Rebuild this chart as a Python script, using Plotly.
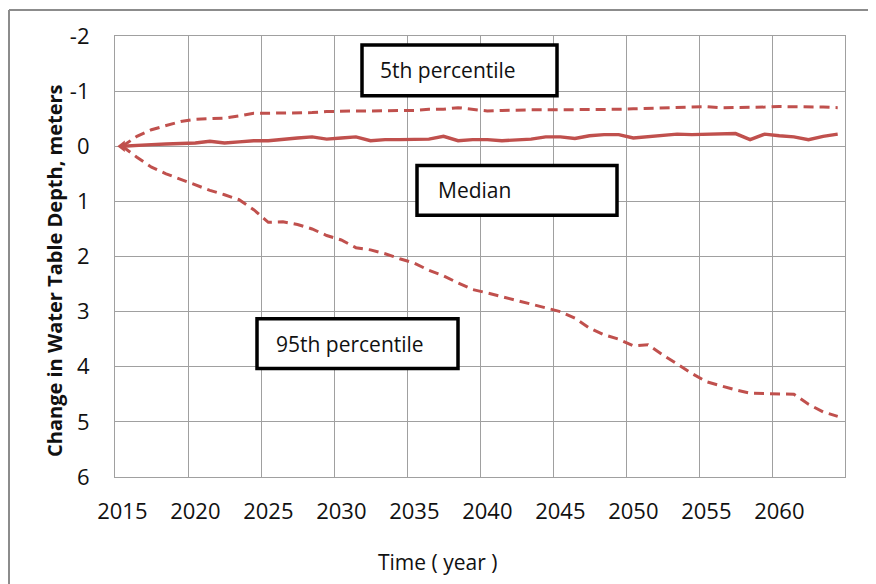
import plotly.graph_objects as go

years = list(range(2015, 2065))

p95 = [0, 0.2, 0.38, 0.5, 0.6, 0.7, 0.8, 0.88, 0.97, 1.15,
       1.38, 1.37, 1.42, 1.5, 1.62, 1.7, 1.84, 1.88, 1.95, 2.04,
       2.12, 2.25, 2.35, 2.48, 2.6, 2.66, 2.73, 2.8, 2.86, 2.93,
       3.0, 3.12, 3.3, 3.42, 3.5, 3.62, 3.6, 3.78, 3.95, 4.12,
       4.27, 4.35, 4.42, 4.48, 4.49, 4.49, 4.5, 4.68, 4.82, 4.9]

p5 = [0, -0.18, -0.3, -0.38, -0.45, -0.49, -0.5, -0.51, -0.55, -0.6,
      -0.6, -0.6, -0.6, -0.61, -0.63, -0.64, -0.64, -0.64, -0.64, -0.65,
      -0.65, -0.67, -0.67, -0.7, -0.67, -0.64, -0.65, -0.66, -0.66, -0.66,
      -0.66, -0.66, -0.67, -0.67, -0.67, -0.68, -0.69, -0.7, -0.7, -0.71,
      -0.72, -0.7, -0.7, -0.7, -0.71, -0.72, -0.72, -0.71, -0.71, -0.7]

median = [0, -0.02, -0.03, -0.04, -0.05, -0.06, -0.09, -0.06, -0.08, -0.1,
          -0.1, -0.13, -0.15, -0.17, -0.13, -0.15, -0.17, -0.1, -0.12, -0.12,
          -0.13, -0.13, -0.18, -0.1, -0.12, -0.12, -0.1, -0.12, -0.13, -0.17,
          -0.17, -0.14, -0.19, -0.21, -0.21, -0.15, -0.17, -0.19, -0.22, -0.21,
          -0.22, -0.22, -0.23, -0.12, -0.22, -0.19, -0.17, -0.12, -0.18, -0.22]

x_tick_labels = [str(y) for y in range(2015, 2061, 5)]
y_ticks = list(range(-2, 7))
y_tick_labels = [str(v) for v in y_ticks]

RED = "#C0504D"
FONT = "Open Sans"
TXT = "#111111"

fig = go.Figure()
fig.add_trace(go.Scatter(x=years, y=p95, mode="lines",
                         line=dict(color=RED, width=3, dash="10px,6px"), showlegend=False))
fig.add_trace(go.Scatter(x=years, y=p5, mode="lines",
                         line=dict(color=RED, width=3, dash="10px,6px"), showlegend=False))
fig.add_trace(go.Scatter(x=years, y=median, mode="lines",
                         line=dict(color=RED, width=3.4), showlegend=False))
fig.add_trace(go.Scatter(x=years[:1], y=median[:1], mode="markers",
                         marker=dict(symbol="triangle-left", size=10, color=RED),
                         showlegend=False))

GRID = "#A0A0A0"
fig.update_xaxes(
    range=[2014.5, 2064.5],
    tickvals=[int(t) for t in x_tick_labels], ticktext=x_tick_labels,
    showgrid=False, ticks="", ticklabelstandoff=14,
    tickfont=dict(family=FONT, size=22, color=TXT),
    minor=dict(tick0=2014.5, dtick=5, showgrid=True, gridcolor=GRID, gridwidth=1.2, ticks=""),
    showline=True, linecolor=GRID, linewidth=1.2, mirror=True, zeroline=False,
)
fig.update_yaxes(
    range=[6, -2], tickvals=y_ticks, ticktext=y_tick_labels,
    showgrid=True, gridcolor=GRID, gridwidth=1.2, ticks="", ticklabelstandoff=20,
    tickfont=dict(family=FONT, size=22, color=TXT),
    showline=True, linecolor=GRID, linewidth=1.2, mirror=True, zeroline=False,
)

# page-pixel helpers (the page body adds an 8px offset)
PL, PR, PT, PB = 115, 845, 34, 477
def px(x):
    return (x - PL) / (PR - PL)
def py(y):
    return (PB - y) / (PB - PT)

annotations = [
    dict(text="Time ( year )", x=px(437), y=py(562), xanchor="center", yanchor="middle",
         xref="paper", yref="paper", showarrow=False,
         font=dict(family=FONT, size=21, color=TXT)),
    dict(text="<b>Change in Water Table Depth, meters</b>", x=px(55), y=py(270),
         xanchor="center", yanchor="middle",
         xref="paper", yref="paper", showarrow=False, textangle=-90,
         font=dict(family=FONT, size=20, color=TXT)),
]
boxes = [
    ("5th percentile", 362, 557, 43, 94, 378),
    ("Median", 417, 617, 164, 214, 436),
    ("95th percentile", 257, 458, 318, 368, 274),
]
shapes = []
for label, x0, x1, y0, y1, tx in boxes:
    shapes.append(dict(type="rect", xref="paper", yref="paper",
                       x0=px(x0), x1=px(x1), y0=py(y1), y1=py(y0),
                       line=dict(color="black", width=3.5), fillcolor="white", layer="above"))
    annotations.append(dict(text=label, x=px(tx), y=py((y0 + y1) / 2),
                            xref="paper", yref="paper", xanchor="left", yanchor="middle",
                            showarrow=False, font=dict(family=FONT, size=21, color=TXT)))

# outer frame (left and top edges visible)
shapes.append(dict(type="line", xref="paper", yref="paper",
                   x0=px(9), x1=px(9), y0=py(8), y1=py(600),
                   line=dict(color="#8C8C8C", width=2)))
shapes.append(dict(type="line", xref="paper", yref="paper",
                   x0=px(9), x1=px(900), y0=py(8), y1=py(8),
                   line=dict(color="#8C8C8C", width=2)))

fig.update_layout(
    width=868, height=576,
    margin=dict(l=PL - 8, r=868 - (PR - 8), t=PT - 8, b=576 - (PB - 8)),
    paper_bgcolor="white", plot_bgcolor="white",
    annotations=annotations, shapes=shapes,
    showlegend=False,
)

fig.write_html("out.html")
